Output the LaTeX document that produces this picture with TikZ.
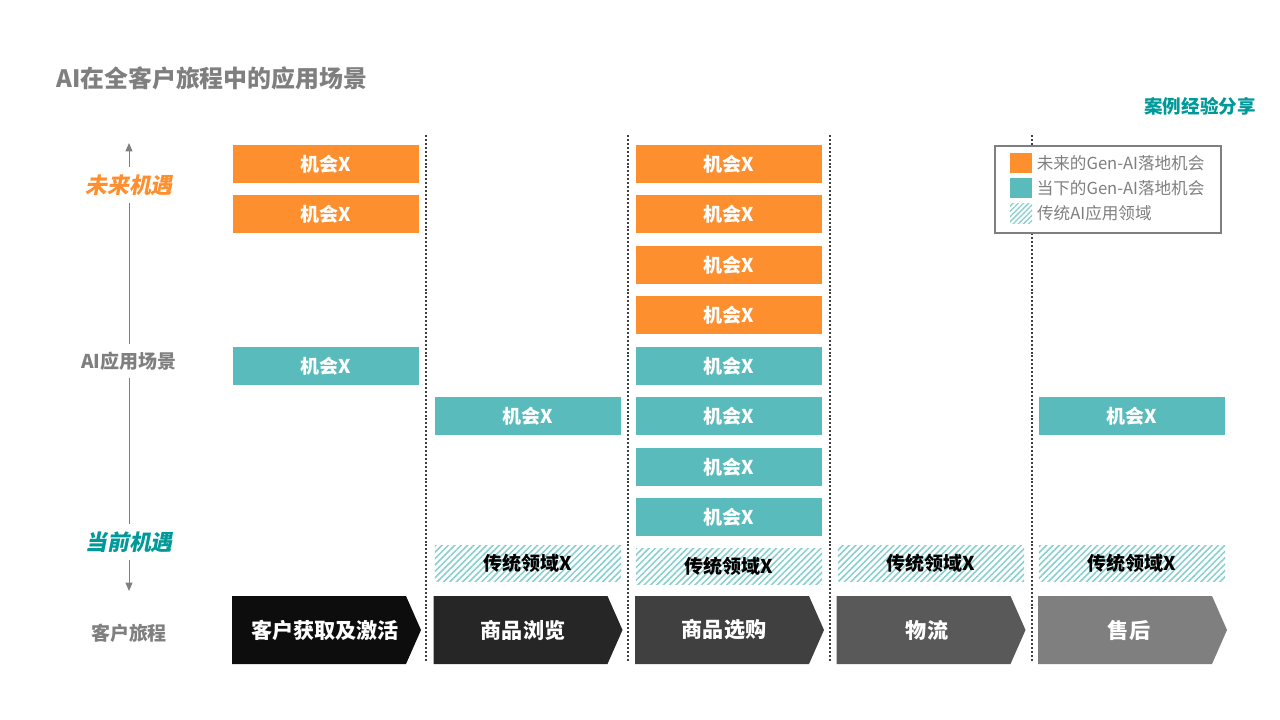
\documentclass[tikz,border=0pt]{standalone}
\usepackage{fontspec}
\setmainfont{Noto Sans CJK SC}
\newfontfamily\cjkslant[FakeSlant=0.2]{Noto Sans CJK SC}
\usetikzlibrary{arrows.meta, positioning, patterns.meta}
\definecolor{opporange}{RGB}{253, 143, 47}
\definecolor{oppteal}{RGB}{89, 187, 187}
\definecolor{hatchteal}{RGB}{135, 207, 207}
\definecolor{darkteal}{RGB}{0, 153, 153}
\definecolor{labelgray}{RGB}{127, 127, 127}
\definecolor{stepa}{RGB}{13, 13, 13}
\definecolor{stepb}{RGB}{38, 38, 38}
\definecolor{stepc}{RGB}{64, 64, 64}
\definecolor{stepd}{RGB}{89, 89, 89}
\definecolor{stepe}{RGB}{127, 127, 127}

\begin{document}
\begin{tikzpicture}[x=0.025cm, y=-0.025cm,
  opp/.style={minimum width=4.65cm, minimum height=0.94cm, inner sep=0pt,
    text=white, font=\fontsize{13.5}{16}\selectfont\bfseries},
  futurebox/.style={opp, fill=opporange},
  nowbox/.style={opp, fill=oppteal},
  legacybox/.style={opp, text=black, minimum height=0.875cm,
    pattern={Lines[angle=45, distance=3.2pt, line width=1.1pt]}, pattern color=hatchteal},
  journeytext/.style={text=white, font=\fontsize{15}{18}\selectfont\bfseries},
  axislabel/.style={text=labelgray, inner sep=5pt, font=\fontsize{13.5}{16}\selectfont\bfseries},
  axisline/.style={labelgray, line width=0.7pt},
  divider/.style={black!75, line width=1.4pt, dash pattern=on 1.4pt off 1.4pt},
  legsq/.style={minimum width=0.55cm, minimum height=0.5cm, inner sep=0pt},
  legtext/.style={text=labelgray, inner sep=0pt, font=\fontsize{11.8}{14}\selectfont}]
  \useasboundingbox (0,0) rectangle (1280,720);

  % Title
  \node[anchor=west, text=labelgray, inner sep=0pt, font=\fontsize{17}{20}\selectfont\bfseries]
    (title) at (56,78) {AI在全客户旅程中的应用场景};
  \node[anchor=east, text=darkteal, inner sep=0pt, font=\fontsize{13.2}{16}\selectfont\bfseries]
    (casetag) at (1256,106) {案例经验分享};

  % Column dividers
  \draw[divider] (426,135) -- (426,662);
  \draw[divider] (628,135) -- (628,662);
  \draw[divider] (830,135) -- (830,662);
  \draw[divider] (1032,135) -- (1032,662);

  % Left axis
  \coordinate (axistop) at (129,143);
  \coordinate (axisbottom) at (129,591);
  \node[axislabel, text=opporange, font=\fontsize{15.5}{18}\selectfont\cjkslant\bfseries]
    (future) at (129,185) {未来机遇};
  \node[axislabel] (scene) at (129,361) {AI应用场景};
  \node[axislabel, text=darkteal, font=\fontsize{15.5}{18}\selectfont\cjkslant\bfseries]
    (present) at (129,542) {当前机遇};
  \node[axislabel] (journey) at (129,633) {客户旅程};
  \draw[axisline, -{Triangle[length=6pt, width=5pt]}] (future.north) -- (axistop);
  \draw[axisline] (future.south) -- (scene.north);
  \draw[axisline] (scene.south) -- (present.north);
  \draw[axisline, -{Triangle[length=6pt, width=5pt]}] (present.south) -- (axisbottom);

  % Column 1: acquisition
  \node[futurebox] (acqa) at (326,164) {机会X};
  \node[futurebox] (acqb) at (326,214) {机会X};
  \node[nowbox] (acqc) at (326,366) {机会X};

  % Column 2: browsing
  \node[nowbox] (browsea) at (528,416) {机会X};
  \node[legacybox] (browseold) at (528,563.5) {传统领域X};

  % Column 3: selection
  \node[futurebox] (picka) at (729,164) {机会X};
  \node[futurebox] (pickb) at (729,214) {机会X};
  \node[futurebox] (pickc) at (729,265) {机会X};
  \node[futurebox] (pickd) at (729,315) {机会X};
  \node[nowbox] (picke) at (729,366) {机会X};
  \node[nowbox] (pickf) at (729,416) {机会X};
  \node[nowbox] (pickg) at (729,467) {机会X};
  \node[nowbox] (pickh) at (729,517) {机会X};
  \node[legacybox] (pickold) at (729,566.5) {传统领域X};

  % Column 4: logistics
  \node[legacybox] (shipold) at (931,563.5) {传统领域X};

  % Column 5: after sales
  \node[nowbox] (servea) at (1132,416) {机会X};
  \node[legacybox] (serveold) at (1132,563.5) {传统领域X};

  % Journey chevrons
  \fill[stepa] (232,596) -- ++(174,0) -- ++(15,34) -- ++(-15,34) -- ++(-174,0) -- cycle;
  \node[journeytext] (acquire) at (325,630) {客户获取及激活};
  \fill[stepb] (433.5,596) -- ++(174,0) -- ++(15,34) -- ++(-15,34) -- ++(-174,0) -- cycle;
  \node[journeytext] (browse) at (523,630) {商品浏览};
  \fill[stepc] (635,596) -- ++(174,0) -- ++(15,34) -- ++(-15,34) -- ++(-174,0) -- cycle;
  \node[journeytext] (pick) at (724,630) {商品选购};
  \fill[stepd] (836.5,596) -- ++(174,0) -- ++(15,34) -- ++(-15,34) -- ++(-174,0) -- cycle;
  \node[journeytext] (ship) at (927,630) {物流};
  \fill[stepe] (1038,596) -- ++(174,0) -- ++(15,34) -- ++(-15,34) -- ++(-174,0) -- cycle;
  \node[journeytext] (serve) at (1129,630) {售后};

  % Legend
  \draw[labelgray, fill=white, line width=0.8pt] (995,146) rectangle (1221,233);
  \node[legsq, fill=opporange] (legfuture) at (1021,163) {};
  \node[legsq, fill=oppteal] (legnow) at (1021,188.5) {};
  \node[legsq, pattern={Lines[angle=45, distance=2.6pt, line width=0.9pt]},
    pattern color=hatchteal] (legold) at (1021,213.5) {};
  \node[legtext, right=3pt of legfuture] (legfuturetext) {未来的Gen-AI落地机会};
  \node[legtext, right=3pt of legnow] (legnowtext) {当下的Gen-AI落地机会};
  \node[legtext, right=3pt of legold] (legoldtext) {传统AI应用领域};
\end{tikzpicture}
\end{document}
